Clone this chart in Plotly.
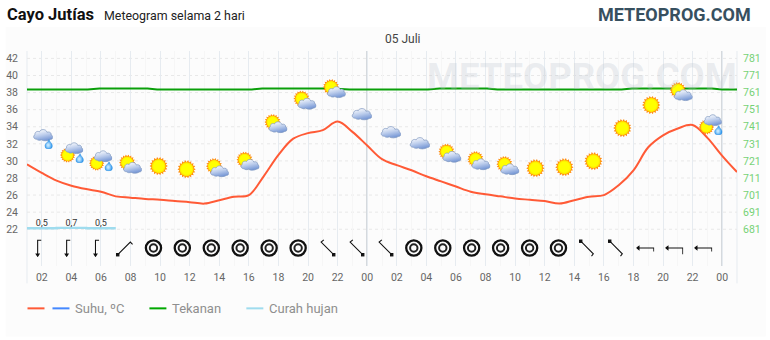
import base64, math
import plotly.graph_objects as go

# ---------- data ----------
temp_hours = list(range(1, 50))
temp_c = [29.6, 28.6, 27.7, 27.1, 26.7, 26.4, 25.85, 25.7, 25.55, 25.45, 25.3, 25.17, 25.0, 25.4, 25.8, 26.0,
          28.2, 30.7, 32.6, 33.25, 33.6, 34.6, 33.4, 31.8, 30.2, 29.5, 28.9, 28.2, 27.6, 27.0, 26.4, 26.1,
          25.85, 25.6, 25.45, 25.3, 25.0, 25.4, 25.8, 26.0, 27.15, 28.9, 31.6, 33.0, 33.8, 34.2, 32.7, 30.6, 28.7]
press_hours = [1, 5.1, 5.9, 9.15, 9.8, 16.2, 16.9, 21.65, 22.8, 28.1, 28.9, 32.1, 32.8, 41.2, 41.9, 47.3, 48, 49]
press_mmhg = [762.8, 762.8, 763.4, 763.4, 762.8, 762.8, 763.4, 763.4, 762.8, 762.8, 763.4, 763.4, 762.8, 762.8,
              763.4, 763.4, 762.8, 762.8]
rain_edges = [1, 3, 5, 7]
rain_mm = [0.5, 0.7, 0.5, 0.5]
rain_label_hours = [2, 4, 6]
rain_labels = ["0,5", "0,7", "0,5"]
rain_label_values = [0.5, 0.7, 0.5]
weather_hours = [1.99, 4.02, 5.98, 7.94, 9.9, 11.79, 13.82, 15.88, 17.77, 19.73, 21.72, 23.61,
                 25.57, 27.53, 29.53, 31.49, 33.45, 35.37, 37.33, 39.29, 41.25, 43.2, 45.17, 47.2]
weather_level = [32.67, 30.68, 29.74, 29.5, 29.39, 29.03, 29.09, 29.85, 34.25, 37.0, 38.35, 35.48,
                 33.37, 32.08, 30.79, 29.91, 29.33, 29.15, 29.27, 29.97, 33.84, 36.54, 38.0, 33.96]
weather_kind = ["cloudrain", "suncloudrain", "suncloudrain", "suncloud", "sun", "sun", "suncloud", "suncloud",
                "suncloud", "suncloud", "suncloud", "cloud", "cloud", "cloud", "suncloud", "suncloud", "suncloud",
                "sun", "sun", "sun", "sun", "sun", "suncloud", "suncloudrain"]
wind_hours = [1.72, 3.68, 5.63, 7.59, 9.55, 11.5, 13.46, 15.41, 17.37, 19.33, 21.28, 23.24,
              25.2, 27.15, 29.11, 31.06, 33.02, 34.98, 36.93, 38.89, 40.85, 42.8, 44.76, 46.72]
wind_dir = ["N", "N", "N", "NE", "C", "C", "C", "C", "C", "C", "NW", "NW", "NW",
            "C", "C", "C", "C", "C", "C", "SE", "SE", "E", "E2", "E"]
hour_ticks = list(range(2, 50, 2))
hour_labels = ["02", "04", "06", "08", "10", "12", "14", "16", "18", "20", "22", "00"] * 2
temp_ticks = list(range(22, 44, 2))
press_ticks = list(range(681, 791, 10))
day_hours = [24, 48]

# ---------- geometry / style ----------
W, H = 770, 340
L, R, T, B = 26.5, 737.0, 51.0, 265.7
PX_H = (R - L) / 48
PX_V = 8.53
Y_TOP = 22 + (229 - T) / PX_V
Y_BOT = 22 - (B - 229) / PX_V
WIND_LEVEL = 22 + (229 - 247.7) / PX_V
RAIN_K = 2.0
GRID = "#e6ebf0"
FONT = "Roboto, sans-serif"


def uri(svg):
    return "data:image/svg+xml;base64," + base64.b64encode(svg.encode()).decode()


def sun_svg():
    pts = []
    n = 18
    for i in range(2 * n):
        r = 20 if i % 2 == 0 else 15.5
        a = math.pi * i / n
        pts.append(f"{20 + r * math.cos(a):.2f},{20 + r * math.sin(a):.2f}")
    return uri(
        '<svg xmlns="http://www.w3.org/2000/svg" width="80" height="80" viewBox="0 0 40 40">'
        '<defs><radialGradient id="g"><stop offset="0.7" stop-color="#ffff00"/>'
        '<stop offset="0.92" stop-color="#ffe000"/><stop offset="1" stop-color="#ffb000"/></radialGradient></defs>'
        f'<polygon points="{" ".join(pts)}" fill="#ff8c10"/>'
        '<circle cx="20" cy="20" r="15.5" fill="url(#g)"/></svg>')


def cloud_svg():
    shape = ('M11 27 C4 27 2 20 7 17.5 C6 11.5 13 9 16.5 11.5 C19 5 31 5 33 12.5 '
             'C37 10.5 43 13 41.5 18 C47 19 47 27 40 27.5 C34 31 25 31 21 28 C17 30 13 29 11 27 Z')
    return uri(
        '<svg xmlns="http://www.w3.org/2000/svg" width="100" height="64" viewBox="1.5 5 44 26.5">'
        '<defs><linearGradient id="c" x1="0.25" y1="0" x2="0.6" y2="1">'
        '<stop offset="0.1" stop-color="#f0f4fb"/><stop offset="0.5" stop-color="#bccdec"/>'
        '<stop offset="1" stop-color="#7294d4"/></linearGradient></defs>'
        f'<path d="{shape}" fill="url(#c)" stroke="#839bc2" stroke-width="1.6"/></svg>')


def drop_svg():
    return uri(
        '<svg xmlns="http://www.w3.org/2000/svg" width="40" height="50" viewBox="0 0 20 25">'
        '<defs><radialGradient id="d" cx="0.45" cy="0.6"><stop offset="0.2" stop-color="#bfe6ff"/>'
        '<stop offset="1" stop-color="#2f97ee"/></radialGradient></defs>'
        '<path d="M11 1 C12 7 19 11 19 17 A9 7.5 0 0 1 1 17 C1 11 9 8 11 1 Z" fill="url(#d)" stroke="#2d8fe0" stroke-width="1"/></svg>')


def wind_svg(code):
    ink = 'stroke="#111" fill="none" stroke-width="1.2"'
    shapes = {
        "N": '<path d="M10 18 V1.5 H14"/><path d="M8.4 16.8 H11.6 L10 19.2 Z" fill="#111"/>',
        "NE": '<path d="M2.5 17.5 L16.5 3.5 L19 6"/><rect x="1.2" y="16.2" width="2.6" height="2.6" fill="#111"/>',
        "NW": '<path d="M17.5 17.5 L3.5 3.5 L6.5 1"/><rect x="16.2" y="16.2" width="2.6" height="2.6" fill="#111"/>',
        "SE": '<path d="M2.5 2.5 L16.5 16.5 L14.5 19"/><rect x="1.2" y="1.2" width="2.6" height="2.6" fill="#111"/>',
        "E": '<path d="M1 10 H19.5 V14"/><path d="M3 8.2 V11.8 L0.5 10 Z" fill="#111"/>',
        "E2": '<path d="M1 10 H19.5 V17"/><path d="M3 8.2 V11.8 L0.5 10 Z" fill="#111"/>',
    }
    if code == "C":
        body = ('<circle cx="10" cy="10" r="7.6" stroke="#111" fill="none" stroke-width="2.3"/>'
                '<circle cx="10" cy="10" r="3.7" stroke="#222" fill="none" stroke-width="2"/>')
    else:
        body = f'<g {ink}>{shapes[code]}</g>'
    return uri('<svg xmlns="http://www.w3.org/2000/svg" width="80" height="80" viewBox="0 0 20 20">' + body + '</svg>')


SUN, CLOUD, DROP = sun_svg(), cloud_svg(), drop_svg()


def place(src, hour, level, w, h, dx=0.0, dy=0.0):
    return dict(source=src, xref="x", yref="y", x=hour + dx / PX_H, y=level - dy / PX_V,
                sizex=w / PX_H, sizey=h / PX_V, xanchor="center", yanchor="middle",
                layer="above", sizing="stretch")


LAYOUTS = {
    "sun": [(SUN, 18.5, 18.5, 0, 0)],
    "cloud": [(CLOUD, 21, 13.5, 0, 0)],
    "suncloud": [(SUN, 16.5, 16.5, -2.5, -2.5), (CLOUD, 19.5, 13, 2.5, 2.5)],
    "cloudrain": [(CLOUD, 20.5, 13.5, 1, -3), (DROP, 8.5, 10, 7, 6)],
    "suncloudrain": [(SUN, 15.5, 15.5, -4, 0), (CLOUD, 19, 13, 2, -7), (DROP, 8.5, 10, 8, 3)],
}
images = []
for hr, lvl, kind in zip(weather_hours, weather_level, weather_kind):
    for src, w, h, dx, dy in LAYOUTS[kind]:
        images.append(place(src, hr, lvl, w, h, dx, dy))
for hr, code in zip(wind_hours, wind_dir):
    size = 20 if code == "C" else 18
    images.append(place(wind_svg(code), hr, WIND_LEVEL, size, size))

fig = go.Figure()
fig.add_trace(go.Scatter(x=rain_edges, y=rain_mm, yaxis="y3", mode="lines", name="Curah hujan",
                         line=dict(color="#9fdcee", width=2.4, shape="hv"), hoverinfo="skip"))
fig.add_trace(go.Scatter(x=rain_label_hours, y=rain_label_values, yaxis="y3", mode="text", text=rain_labels,
                         textposition="top center", textfont=dict(family=FONT, size=9, color="#333"),
                         showlegend=False, hoverinfo="skip"))
fig.add_trace(go.Scatter(x=press_hours, y=press_mmhg, yaxis="y2", mode="lines", name="Tekanan",
                         line=dict(color="#0a9f0a", width=2), hoverinfo="skip"))
fig.add_trace(go.Scatter(x=temp_hours, y=temp_c, mode="lines", name="Suhu, ºC",
                         line=dict(color="#ff5a36", width=2, shape="spline", smoothing=1.0), hoverinfo="skip"))

shapes = [
    dict(type="rect", xref="paper", yref="paper", x0=(5 - L) / (R - L), x1=(766 - L) / (R - L),
         y0=(B - 336) / (B - T), y1=(B - 27) / (B - T), fillcolor="#fcfcfc", line_width=0, layer="below"),
]
for px in (0, 1):
    shapes.append(dict(type="line", xref="paper", yref="paper", x0=px, x1=px, y0=(B - 283) / (B - T), y1=1,
                       line=dict(color=GRID, width=1), layer="below"))
for v in temp_ticks:
    shapes.append(dict(type="line", xref="paper", yref="y", x0=0, x1=1, y0=v, y1=v,
                       line=dict(color="#e8e8e8", width=1, dash="3px,3px"), layer="between"))
for h in day_hours:
    shapes.append(dict(type="line", xref="x", yref="paper", x0=h, x1=h, y0=0, y1=1,
                       line=dict(color="#a4adb6", width=1.3), layer="between"))


def px_x(p):
    return (p - L) / (R - L)


def px_y(p):
    return (B - p) / (B - T)


legend_rows = [(27, 44, "#ff5a36"), (52, 69, "#4488ff"), (149, 166, "#00a800"), (246, 263, "#9fdcee")]
for a, b, c in legend_rows:
    shapes.append(dict(type="line", xref="paper", yref="paper", x0=px_x(a), x1=px_x(b), y0=px_y(308), y1=px_y(308),
                       line=dict(color=c, width=2)))


def label(text, x, y, size, color, anchor="left", bold=False):
    return dict(text=f"<b>{text}</b>" if bold else text, xref="paper", yref="paper", x=px_x(x), y=px_y(y),
                xanchor=anchor, yanchor="middle", showarrow=False,
                font=dict(family=FONT, size=size, color=color))


annotations = [
    label("METEOPROG.COM", 425, 76, 36.5, "rgba(190,198,206,0.3)", bold=True),
    label("Cayo Jutías", 4.5, 15, 16.5, "#111", bold=True),
    label("Meteogram selama 2 hari", 102, 16, 12.4, "#222"),
    label("METEOPROG.COM", 596, 15, 18, "#37505f", bold=True),
    label("05 Juli", 403, 39.5, 12, "#444", anchor="center"),
    label("Suhu, ºC", 73, 308, 13, "#8f8f8f"),
    label("Tekanan", 170, 308, 13, "#8f8f8f"),
    label("Curah hujan", 267, 308, 13, "#8f8f8f"),
]

fig.update_layout(
    width=W, height=H, paper_bgcolor="white", plot_bgcolor="rgba(0,0,0,0)", showlegend=False,
    margin=dict(l=L, r=W - R, t=T, b=H - B, pad=0, autoexpand=False),
    font=dict(family=FONT, size=11, color="#666"),
    images=images, shapes=shapes, annotations=annotations,
    xaxis=dict(range=[1, 49], tickmode="array", tickvals=hour_ticks, ticktext=hour_labels, showgrid=True,
               gridcolor=GRID, gridwidth=1, zeroline=False, showline=False, ticks="", tickangle=0, automargin=False,
               tickfont=dict(family=FONT, size=10.5, color="#666"), ticklabelstandoff=3,
               minor=dict(tickvals=list(range(1, 49, 2)), showgrid=True, gridcolor="#f6f6f6", gridwidth=1)),
    yaxis=dict(range=[Y_BOT, Y_TOP], tickmode="array", tickvals=temp_ticks, showgrid=False, zeroline=False,
               showline=False, ticks="", automargin=False,
               tickfont=dict(family=FONT, size=10.5, color="#666"), ticklabelstandoff=8),
    yaxis2=dict(overlaying="y", side="right", range=[761 + (Y_BOT - 38) * 5, 761 + (Y_TOP - 38) * 5],
                tickmode="array", tickvals=press_ticks, showgrid=False, zeroline=False, showline=False, ticks="",
                automargin=False, tickfont=dict(family=FONT, size=10.5, color="#76d276"), ticklabelstandoff=5),
    yaxis3=dict(overlaying="y", side="left", range=[(Y_BOT - 22) * PX_V / RAIN_K, (Y_TOP - 22) * PX_V / RAIN_K],
                visible=False, showgrid=False, zeroline=False, automargin=False),
)

fig.write_html("out.html", config=dict(displayModeBar=False), post_script="document.body.style.margin='0';")
